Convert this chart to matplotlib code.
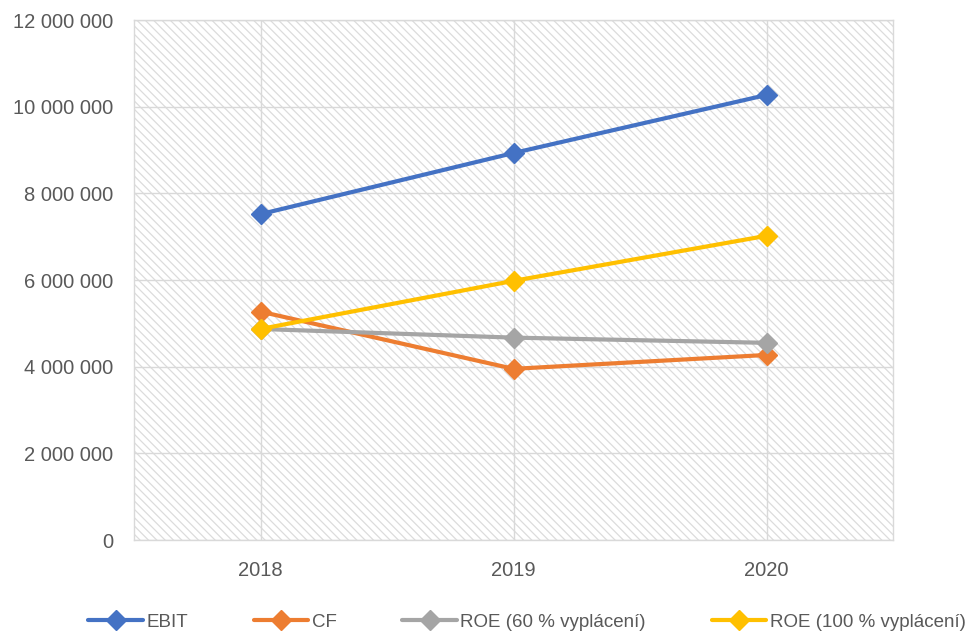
import matplotlib.pyplot as plt
from matplotlib.patches import Rectangle
from matplotlib.ticker import FuncFormatter

years = ["2018", "2019", "2020"]
ebit = [7.52e6, 8.93e6, 10.27e6]
cf = [5.27e6, 3.95e6, 4.27e6]
roe_60 = [4.87e6, 4.67e6, 4.55e6]
roe_100 = [4.87e6, 5.98e6, 7.02e6]

series_names = ["EBIT", "CF", "ROE (60 % vyplácení)", "ROE (100 % vyplácení)"]
series_colors = ["#4472C4", "#ED7D31", "#A5A5A5", "#FFC000"]

plt.rcParams['font.family'] = ['Liberation Sans', 'DejaVu Sans']
plt.rcParams['hatch.color'] = '#dcdcdc'
plt.rcParams['hatch.linewidth'] = 0.9

fig = plt.figure(figsize=(9.73, 6.37), dpi=100)
ax = fig.add_axes([134 / 973, 97 / 637, 759 / 973, 520 / 637])

# hatched background like the excel plot area
bg = Rectangle((0, 0), 1, 1, transform=ax.transAxes, facecolor='white',
               edgecolor='#dcdcdc', hatch='\\\\\\\\', linewidth=0, zorder=0)
ax.add_patch(bg)

x = list(range(len(years)))
for vals, name, col in zip([ebit, cf, roe_60, roe_100], series_names, series_colors):
    ax.plot(x, vals, color=col, linewidth=3, marker='D', markersize=10.5,
            label=name, zorder=3, solid_capstyle='round')

ax.set_xlim(-0.5, 2.5)
ax.set_ylim(0, 12e6)
ax.set_yticks([i * 2e6 for i in range(7)])
ax.set_xticks(x)
ax.set_xticklabels(years)
ax.yaxis.set_major_formatter(FuncFormatter(lambda v, p: f"{int(v):,}".replace(",", " ")))
ax.grid(True, color='#d9d9d9', linewidth=1.0, zorder=1)
ax.set_axisbelow(True)
ax.tick_params(length=0, labelsize=14.5, colors='#595959')
ax.tick_params(axis='y', pad=15)
ax.tick_params(axis='x', pad=15)
for s in ax.spines.values():
    s.set_color('#d9d9d9')
    s.set_linewidth(1.0)

fig.legend(loc='center', bbox_to_anchor=(0.5416, 1 - 622 / 637), ncol=4, frameon=False,
           fontsize=13.5, handlelength=2.9, handletextpad=0.2, columnspacing=3.5,
           labelcolor='#595959')

fig.savefig("out.png", dpi=100)
